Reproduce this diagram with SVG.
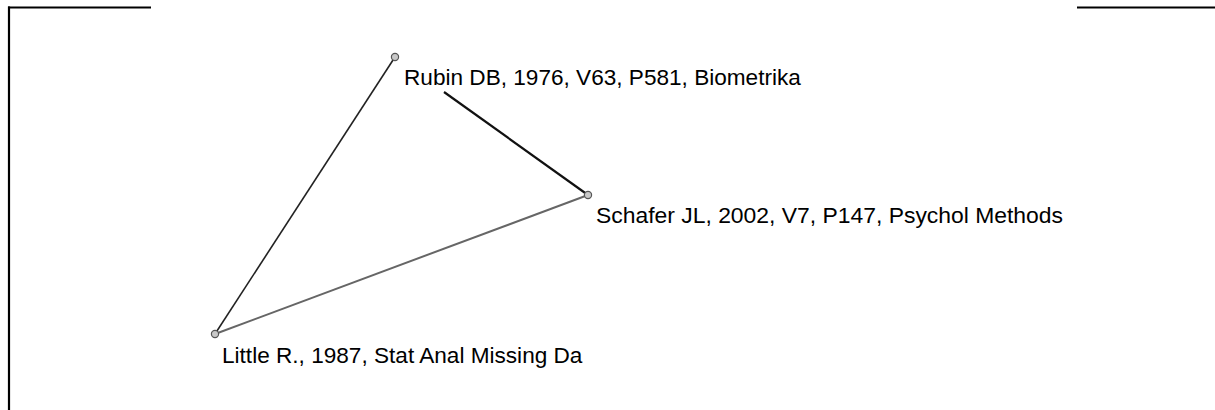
<svg xmlns="http://www.w3.org/2000/svg" width="1215" height="410" viewBox="0 0 1215 410">
<style>
.frame{stroke:#000;stroke-width:2.2;fill:none}
.node circle{fill:#c8c8c8;stroke:#555;stroke-width:1.2}
.node text{font-family:"Liberation Sans",Arial,sans-serif;font-size:22.6px;fill:#000}
</style>
<rect width="1215" height="410" fill="#fff"/>
<g id="frame">
<line class="frame" x1="8" y1="7.5" x2="151" y2="7.5"/>
<line class="frame" x1="9" y1="6.5" x2="9" y2="410"/>
<line class="frame" x1="1077" y1="7.5" x2="1215" y2="7.5"/>
</g>
<g id="connectors">
<line x1="215" y1="334" x2="395" y2="57" stroke="#222" stroke-width="1.6"/>
<line x1="444" y1="92" x2="588" y2="195" stroke="#111" stroke-width="2.2"/>
<line x1="215" y1="334" x2="588" y2="195" stroke="#666" stroke-width="2"/>
</g>
<g id="rubin" class="node">
<circle cx="395" cy="57" r="3.6"/>
<text x="404" y="85">Rubin DB, 1976, V63, P581, Biometrika</text>
</g>
<g id="schafer" class="node">
<circle cx="588" cy="195" r="3.6"/>
<text x="596" y="223" style="font-size:22.9px">Schafer JL, 2002, V7, P147, Psychol Methods</text>
</g>
<g id="little" class="node">
<circle cx="215" cy="334" r="3.6"/>
<text x="222" y="363">Little R., 1987, Stat Anal Missing Da</text>
</g>
</svg>
